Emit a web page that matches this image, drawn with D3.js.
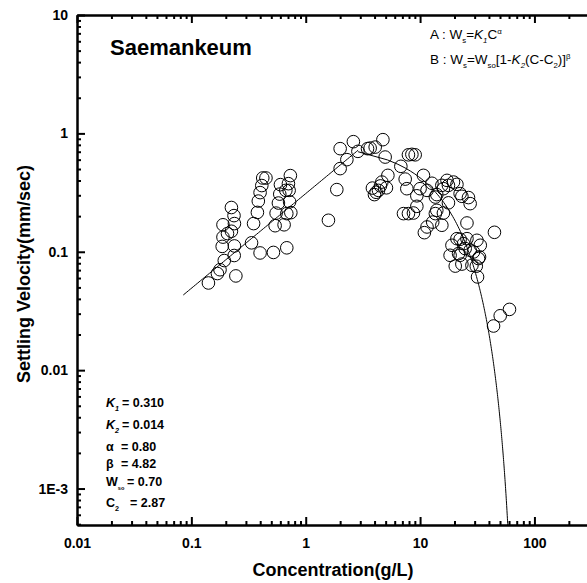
<!DOCTYPE html>
<html>
<head>
<meta charset="utf-8">
<script src="https://cdn.jsdelivr.net/npm/d3@7"></script>
<style>
  body { margin: 0; background: #fff; }
  text { font-family: "Liberation Sans", Arial, sans-serif; }
</style>
</head>
<body>
<svg id="chart"></svg>
<script>
// measured points (g/L, mm/sec)
const concentration = [
  0.141, 0.169, 0.178, 0.194, 0.245, 0.237, 0.186, 0.189, 0.207, 0.224,
  0.238, 0.189, 0.238, 0.236, 0.224, 0.336, 0.399, 0.522, 0.683, 0.350,
  0.378, 0.385, 0.399, 0.413, 0.421, 0.449, 0.54, 0.551, 0.647, 0.577,
  0.593, 0.601, 0.67, 0.716, 0.723, 0.741, 0.683, 0.734, 0.706,
  1.58, 1.87, 2.0, 2.0, 2.29, 2.61, 2.86, 3.47, 3.66, 4.05,
  4.73, 4.95, 5.23, 5.08, 4.33, 3.99, 3.83, 4.13, 4.63, 6.79,
  7.91, 8.48, 9.06, 7.41, 7.66, 7.16, 7.91, 8.75, 9.37, 9.37,
  10.7, 10.0, 11.5, 10.9, 12.9, 13.6, 15.5, 16.0, 12.7, 14.0,
  16.0, 17.7, 19.6, 21.0, 23.2, 26.5, 27.4, 17.7, 25.7, 44.7,
  19.0, 22.4, 24.8, 31.4, 33.6, 33.1, 29.3, 23.2, 20.3, 31.0,
  31.8, 22.4, 60.5, 50.2, 43.9, 32.4, 18.3, 21.7, 24.0, 27.4,
  28.4, 21.0, 25.7, 11.5, 15.5, 17.2, 22.4, 4.5, 13.6, 14.0
];
const velocity = [
  0.0545, 0.0655, 0.0705, 0.0843, 0.0625, 0.093, 0.111, 0.133, 0.1425, 0.149,
  0.112, 0.169, 0.173, 0.202, 0.2365, 0.119, 0.0977, 0.0987, 0.108, 0.173,
  0.215, 0.268, 0.316, 0.3625, 0.42, 0.42, 0.166, 0.212, 0.169, 0.258,
  0.307, 0.369, 0.330, 0.330, 0.264, 0.214, 0.210, 0.44, 0.376,
  0.1845, 0.335, 0.504, 0.743, 0.60, 0.851, 0.705, 0.743, 0.751, 0.766,
  0.885, 0.631, 0.442, 0.347, 0.330, 0.304, 0.345, 0.318, 0.388, 0.527,
  0.659, 0.665, 0.659, 0.411, 0.341, 0.210, 0.210, 0.2125, 0.242, 0.297,
  0.442, 0.341, 0.162, 0.145, 0.178, 0.210, 0.1675, 0.2125, 0.379, 0.304,
  0.341, 0.364, 0.388, 0.371, 0.294, 0.287, 0.255, 0.259, 0.175, 0.146,
  0.1135, 0.1275, 0.1064, 0.125, 0.1135, 0.0904, 0.0996, 0.0787, 0.0757, 0.0755,
  0.0613, 0.0934, 0.0326, 0.0288, 0.0236, 0.0876, 0.0934, 0.0966, 0.117, 0.103,
  0.0769, 0.129, 0.129, 0.330, 0.364, 0.401, 0.31, 0.36, 0.29, 0.224
];

const xTickValues = [0.01, 0.1, 1, 10, 100];
const xTickLabels = ["0.01", "0.1", "1", "10", "100"];
const yTickValues = [10, 1, 0.1, 0.01, 0.001];
const yTickLabels = ["10", "1", "0.1", "0.01", "1E-3"];

// fitted model parameters printed on the chart
const K1 = 0.310, K2 = 0.014, alpha = 0.80, beta = 4.82, Wso = 0.70, C2 = 2.87;
const fitStartC = 0.085;

const width = 587, height = 583;
const plotLeft = 77, plotRight = 589, plotTop = 15, plotBottom = 525;

const svg = d3.select("#chart").attr("width", width).attr("height", height);

const x = d3.scaleLog().domain([0.01, 300]).range([plotLeft, plotRight]);
const y = d3.scaleLog().domain([4.92e-4, 10]).range([plotBottom, plotTop]);

function minorTicks(lo, hi) {
  let out = [];
  for (let e = Math.floor(Math.log10(lo)); e <= Math.ceil(Math.log10(hi)); e++) {
    for (let m = 2; m <= 9; m++) {
      const v = m * Math.pow(10, e);
      if (v >= lo && v <= hi) out.push(v);
    }
  }
  return out;
}

svg.append("clipPath").attr("id", "plot")
  .append("rect").attr("x", plotLeft).attr("y", plotTop)
  .attr("width", plotRight - plotLeft).attr("height", plotBottom - plotTop);

// fit curves
const curveA = d3.range(0, 101).map(i => {
  const c = Math.exp(Math.log(fitStartC) + (Math.log(C2) - Math.log(fitStartC)) * i / 100);
  return [c, K1 * Math.pow(c, alpha)];
});
const cEnd = C2 + 1 / K2 - 0.01;
const curveB = d3.range(0, 301).map(i => {
  const c = C2 + (cEnd - C2) * Math.pow(i / 300, 0.6);
  return [c, Wso * Math.pow(1 - K2 * (c - C2), beta)];
}).filter(d => d[1] > 1e-5);

const line = d3.line().x(d => x(d[0])).y(d => y(d[1]));

const curves = svg.append("g").attr("clip-path", "url(#plot)");
[curveA, curveB].forEach(c => {
  curves.append("path").attr("d", line(c))
    .attr("fill", "none").attr("stroke", "#000").attr("stroke-width", 1);
});

svg.append("g").selectAll("circle")
  .data(concentration.map((c, i) => [c, velocity[i]]))
  .enter().append("circle")
    .attr("cx", d => x(d[0]))
    .attr("cy", d => y(d[1]))
    .attr("r", 6.3)
    .attr("fill", "none")
    .attr("stroke", "#000")
    .attr("stroke-width", 1);

// axes, ticks pointing inward
function styleAxis(g) {
  g.select(".domain").attr("stroke-width", 2);
  g.selectAll(".tick line").attr("stroke-width", 2);
  g.selectAll(".tick text").attr("font-size", 14).attr("font-weight", "bold")
    .attr("font-family", "Liberation Sans, Arial, sans-serif").attr("fill", "#000");
}

const xMinor = minorTicks(0.01, 300);
const yMinor = minorTicks(4.92e-4, 10);

svg.append("g").attr("transform", `translate(0,${plotBottom})`)
  .call(d3.axisBottom(x).tickValues(xMinor).tickSize(-4).tickSizeOuter(0).tickFormat(""))
  .call(styleAxis);
svg.append("g").attr("transform", `translate(0,${plotBottom})`)
  .call(d3.axisBottom(x).tickValues(xTickValues).tickSize(-8).tickSizeOuter(0)
    .tickPadding(13).tickFormat((d, i) => xTickLabels[i]))
  .call(styleAxis);

svg.append("g").attr("transform", `translate(0,${plotTop})`)
  .call(d3.axisTop(x).tickValues(xMinor).tickSize(-4).tickSizeOuter(0).tickFormat(""))
  .call(styleAxis);
svg.append("g").attr("transform", `translate(0,${plotTop})`)
  .call(d3.axisTop(x).tickValues(xTickValues).tickSize(-8).tickSizeOuter(0).tickFormat(""))
  .call(styleAxis);

svg.append("g").attr("transform", `translate(${plotLeft},0)`)
  .call(d3.axisLeft(y).tickValues(yMinor).tickSize(-4).tickSizeOuter(0).tickFormat(""))
  .call(styleAxis);
svg.append("g").attr("transform", `translate(${plotLeft},0)`)
  .call(d3.axisLeft(y).tickValues(yTickValues).tickSize(-8).tickSizeOuter(0)
    .tickPadding(9).tickFormat((d, i) => yTickLabels[i]))
  .call(styleAxis);

// axis titles
svg.append("text")
  .attr("x", (plotLeft + plotRight) / 2).attr("y", 576)
  .attr("text-anchor", "middle").attr("font-size", 18).attr("font-weight", "bold")
  .text("Concentration(g/L)");

svg.append("text")
  .attr("transform", `translate(30,${(plotTop + plotBottom) / 2 + 4}) rotate(-90)`)
  .attr("text-anchor", "middle").attr("font-size", 18).attr("font-weight", "bold")
  .text("Settling Velocity(mm/sec)");

svg.append("text")
  .attr("x", 110).attr("y", 55)
  .attr("font-size", 22).attr("font-weight", "bold")
  .text("Saemankeum");

// text with sub/superscripts
function richText(px, py, parts, size, weight) {
  const t = svg.append("text").attr("x", px).attr("y", py)
    .attr("font-size", size).attr("font-weight", weight);
  let shift = 0;
  parts.forEach(p => {
    const want = p.sub ? size * 0.3 : p.sup ? -size * 0.4 : 0;
    const s = t.append("tspan").attr("dy", want - shift).text(p.t);
    shift = want;
    if (p.sub || p.sup) s.attr("font-size", size * (p.small || 0.58));
    if (p.i) s.attr("font-style", "italic");
  });
  return t;
}

richText(430, 39, [
  {t: "A : W"}, {t: "s", sub: 1}, {t: "="}, {t: "K", i: 1}, {t: "1", i: 1, sub: 1},
  {t: "C"}, {t: "α", sup: 1}
], 13.5, "normal");
richText(430, 64, [
  {t: "B : W"}, {t: "s", sub: 1}, {t: "=W"}, {t: "so", sub: 1}, {t: "[1-"},
  {t: "K", i: 1}, {t: "2", i: 1, sub: 1}, {t: "(C-C"}, {t: "2", sub: 1},
  {t: ")]"}, {t: "β", sup: 1}
], 13.5, "normal");

const paramRows = [
  {y: 407, name: [{t: "K", i: 1}, {t: "1", i: 1, sub: 1}], x: 122, v: "= 0.310"},
  {y: 429, name: [{t: "K", i: 1}, {t: "2", i: 1, sub: 1}], x: 122, v: "= 0.014"},
  {y: 451, name: [{t: "α"}], x: 121, v: "= 0.80"},
  {y: 468, name: [{t: "β"}], x: 121, v: "= 4.82"},
  {y: 486, name: [{t: "W"}, {t: "so", sub: 1, small: 0.45}], x: 127, v: "= 0.70"},
  {y: 507, name: [{t: "C"}, {t: "2", sub: 1}], x: 130, v: "= 2.87"}
];
paramRows.forEach(r => {
  richText(106, r.y, r.name, 12.5, "bold");
  svg.append("text").attr("x", r.x).attr("y", r.y)
    .attr("font-size", 12.5).attr("font-weight", "bold").text(r.v);
});
</script>
</body>
</html>
